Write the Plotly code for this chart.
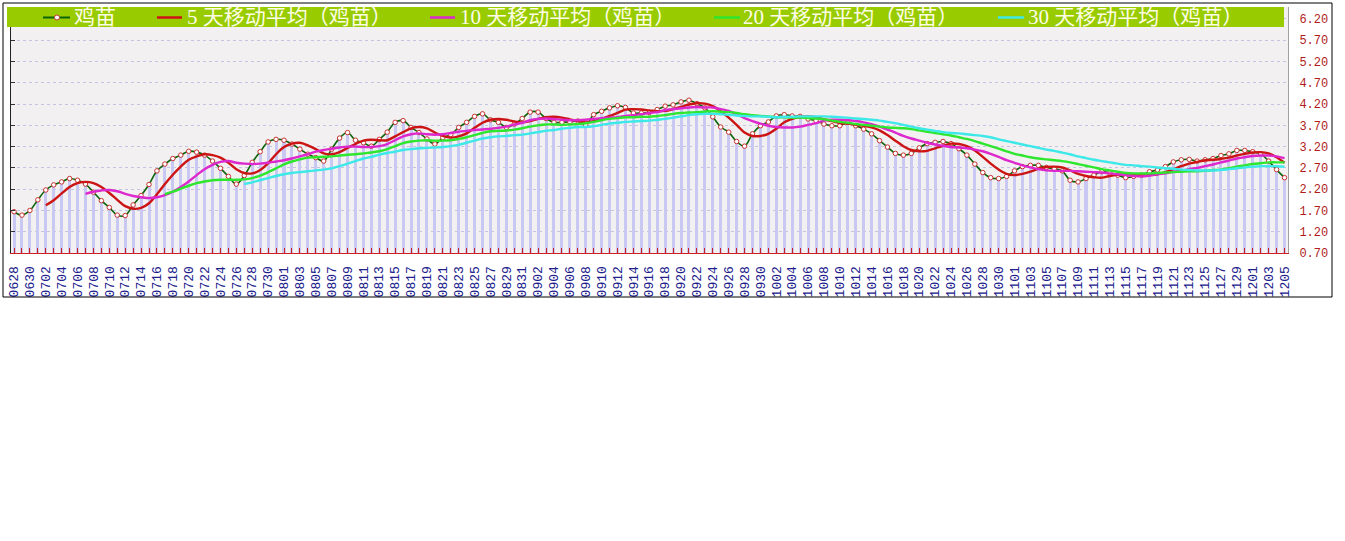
import plotly.graph_objects as go

# ---------------- data ----------------
dates = [
    "0628", "0629", "0630",
    "0701", "0702", "0703", "0704", "0705", "0706", "0707", "0708", "0709", "0710",
    "0711", "0712", "0713", "0714", "0715", "0716", "0717", "0718", "0719", "0720",
    "0721", "0722", "0723", "0724", "0725", "0726", "0727", "0728", "0729", "0730", "0731",
    "0801", "0802", "0803", "0804", "0805", "0806", "0807", "0808", "0809", "0810",
    "0811", "0812", "0813", "0814", "0815", "0816", "0817", "0818", "0819", "0820",
    "0821", "0822", "0823", "0824", "0825", "0826", "0827", "0828", "0829", "0830", "0831",
    "0901", "0902", "0903", "0904", "0905", "0906", "0907", "0908", "0909", "0910",
    "0911", "0912", "0913", "0914", "0915", "0916", "0917", "0918", "0919", "0920",
    "0921", "0922", "0923", "0924", "0925", "0926", "0927", "0928", "0929", "0930",
    "1001", "1002", "1003", "1004", "1005", "1006", "1007", "1008", "1009", "1010",
    "1011", "1012", "1013", "1014", "1015", "1016", "1017", "1018", "1019", "1020",
    "1021", "1022", "1023", "1024", "1025", "1026", "1027", "1028", "1029", "1030", "1031",
    "1101", "1102", "1103", "1104", "1105", "1106", "1107", "1108", "1109", "1110",
    "1111", "1112", "1113", "1114", "1115", "1116", "1117", "1118", "1119", "1120",
    "1121", "1122", "1123", "1124", "1125", "1126", "1127", "1128", "1129", "1130",
    "1201", "1202", "1203", "1204", "1205",
]

raw = [
    1.67, 1.59, 1.70, 1.95, 2.18, 2.30, 2.37, 2.45, 2.41, 2.32,
    2.13, 1.93, 1.77, 1.59, 1.58, 1.83, 2.05, 2.31, 2.63, 2.79,
    2.92, 3.00, 3.09, 3.07, 3.00, 2.86, 2.69, 2.50, 2.32, 2.52,
    2.83, 3.08, 3.31, 3.37, 3.35, 3.26, 3.14, 3.02, 2.94, 2.86,
    3.14, 3.40, 3.53, 3.35, 3.29, 3.21, 3.37, 3.54, 3.77, 3.81,
    3.65, 3.53, 3.38, 3.26, 3.41, 3.48, 3.65, 3.77, 3.91, 3.97,
    3.83, 3.77, 3.65, 3.73, 3.86, 4.01, 4.01, 3.86, 3.77, 3.77,
    3.78, 3.80, 3.71, 3.95, 4.03, 4.11, 4.16, 4.12, 3.99, 3.99,
    4.00, 4.07, 4.15, 4.18, 4.25, 4.29, 4.21, 4.11, 3.90, 3.66,
    3.54, 3.32, 3.21, 3.50, 3.69, 3.78, 3.92, 3.95, 3.92, 3.91,
    3.85, 3.81, 3.73, 3.69, 3.69, 3.77, 3.69, 3.61, 3.50, 3.34,
    3.19, 3.04, 3.00, 3.04, 3.17, 3.27, 3.30, 3.32, 3.27, 3.15,
    3.00, 2.79, 2.59, 2.47, 2.45, 2.50, 2.63, 2.73, 2.76, 2.76,
    2.71, 2.68, 2.63, 2.41, 2.37, 2.45, 2.53, 2.61, 2.58, 2.53,
    2.47, 2.50, 2.53, 2.61, 2.65, 2.73, 2.84, 2.89, 2.90, 2.86,
    2.89, 2.92, 2.99, 3.03, 3.11, 3.11, 3.08, 3.03, 2.86, 2.66,
    2.47,
]

ma5 = [
    1.82, 1.94, 2.10, 2.25, 2.34, 2.37,
    2.34, 2.25, 2.11, 1.95, 1.80, 1.74, 1.76, 1.87, 2.08, 2.32,
    2.54, 2.73, 2.89, 2.97, 3.02, 3.00, 2.94, 2.82, 2.67, 2.58,
    2.57, 2.65, 2.81, 3.02, 3.19, 3.27, 3.29, 3.23, 3.14, 3.04,
    3.02, 3.07, 3.17, 3.26, 3.34, 3.36, 3.35, 3.35, 3.44, 3.54,
    3.63, 3.66, 3.63, 3.53, 3.45, 3.41, 3.44, 3.51, 3.64, 3.76,
    3.83, 3.85, 3.83, 3.79, 3.77, 3.80, 3.85, 3.89, 3.90, 3.88,
    3.84, 3.80, 3.77, 3.80, 3.85, 3.92, 3.99, 4.07, 4.08, 4.07,
    4.05, 4.03, 4.04, 4.08, 4.13, 4.19, 4.22, 4.21, 4.15, 4.03,
    3.88, 3.71, 3.53, 3.45, 3.45, 3.50, 3.62, 3.77, 3.85, 3.90,
    3.91, 3.89, 3.84, 3.80, 3.75, 3.74, 3.71, 3.69, 3.65, 3.58,
    3.47, 3.34, 3.21, 3.12, 3.09, 3.10, 3.16, 3.22, 3.27, 3.26,
    3.21, 3.11, 2.96, 2.80, 2.66, 2.56, 2.53, 2.56, 2.61, 2.68,
    2.72, 2.73, 2.71, 2.64, 2.56, 2.51, 2.48, 2.47, 2.51, 2.54,
    2.54, 2.54, 2.52, 2.53, 2.55, 2.60, 2.67, 2.74, 2.80, 2.84,
    2.88, 2.89, 2.91, 2.94, 2.99, 3.03, 3.06, 3.07, 3.04, 2.95,
    2.82,
]

ma10 = [
    2.09,
    2.14, 2.17, 2.18, 2.15, 2.09, 2.04, 2.01, 1.99, 2.01, 2.06,
    2.14, 2.25, 2.38, 2.53, 2.67, 2.77, 2.84, 2.86, 2.82, 2.80,
    2.79, 2.80, 2.82, 2.85, 2.88, 2.92, 2.97, 3.02, 3.08, 3.12,
    3.15, 3.18, 3.20, 3.20, 3.19, 3.19, 3.21, 3.26, 3.35, 3.44,
    3.49, 3.51, 3.49, 3.48, 3.49, 3.52, 3.55, 3.57, 3.59, 3.60,
    3.62, 3.64, 3.67, 3.72, 3.76, 3.82, 3.85, 3.86, 3.85, 3.83,
    3.82, 3.82, 3.83, 3.85, 3.87, 3.88, 3.89, 3.92, 3.94, 3.96,
    3.99, 4.01, 4.06, 4.08, 4.10, 4.12, 4.13, 4.12, 4.12, 4.08,
    4.04, 3.96, 3.87, 3.80, 3.74, 3.69, 3.66, 3.65, 3.65, 3.67,
    3.71, 3.75, 3.81, 3.83, 3.83, 3.82, 3.80, 3.77, 3.73, 3.67,
    3.60, 3.53, 3.45, 3.39, 3.34, 3.29, 3.25, 3.22, 3.19, 3.18,
    3.16, 3.13, 3.09, 3.03, 2.96, 2.88, 2.82, 2.76, 2.71, 2.67,
    2.64, 2.63, 2.63, 2.63, 2.62, 2.61, 2.60, 2.59, 2.57, 2.55,
    2.53, 2.51, 2.50, 2.52, 2.55, 2.57, 2.61, 2.63, 2.67, 2.70,
    2.74, 2.78, 2.83, 2.87, 2.92, 2.95, 2.98, 2.99, 2.99, 2.97,
    2.93,
]

ma20 = [
    2.08,
    2.14, 2.21, 2.28, 2.34, 2.38, 2.41, 2.42, 2.42, 2.42, 2.43,
    2.46, 2.52, 2.60, 2.69, 2.78, 2.85, 2.90, 2.94, 2.95, 2.96,
    2.97, 2.99, 3.01, 3.02, 3.04, 3.06, 3.09, 3.14, 3.21, 3.28,
    3.32, 3.34, 3.35, 3.34, 3.34, 3.35, 3.38, 3.42, 3.47, 3.52,
    3.56, 3.57, 3.58, 3.60, 3.63, 3.67, 3.70, 3.72, 3.72, 3.71,
    3.72, 3.73, 3.75, 3.78, 3.82, 3.85, 3.87, 3.89, 3.89, 3.90,
    3.90, 3.92, 3.94, 3.97, 3.99, 4.00, 4.01, 4.02, 4.03, 4.02,
    4.01, 3.99, 3.96, 3.94, 3.92, 3.91, 3.89, 3.89, 3.88, 3.88,
    3.87, 3.86, 3.84, 3.81, 3.78, 3.76, 3.73, 3.71, 3.69, 3.67,
    3.65, 3.64, 3.63, 3.61, 3.58, 3.55, 3.52, 3.49, 3.46, 3.42,
    3.38, 3.33, 3.27, 3.21, 3.15, 3.09, 3.03, 2.99, 2.95, 2.92,
    2.90, 2.88, 2.86, 2.83, 2.79, 2.75, 2.71, 2.67, 2.64, 2.61,
    2.58, 2.57, 2.57, 2.57, 2.58, 2.59, 2.60, 2.61, 2.62, 2.62,
    2.63, 2.65, 2.66, 2.69, 2.73, 2.76, 2.79, 2.81, 2.83, 2.83,
    2.83,
]

ma30 = [
    2.32,
    2.36, 2.41, 2.46, 2.51, 2.55, 2.58, 2.60, 2.62, 2.64, 2.66,
    2.69, 2.74, 2.80, 2.86, 2.92, 2.96, 3.01, 3.05, 3.08, 3.12,
    3.14, 3.16, 3.17, 3.18, 3.19, 3.21, 3.24, 3.29, 3.34, 3.39,
    3.42, 3.44, 3.45, 3.47, 3.48, 3.51, 3.54, 3.57, 3.59, 3.62,
    3.64, 3.66, 3.66, 3.68, 3.71, 3.74, 3.76, 3.78, 3.79, 3.80,
    3.81, 3.83, 3.85, 3.88, 3.91, 3.94, 3.96, 3.97, 3.97, 3.96,
    3.95, 3.93, 3.92, 3.91, 3.91, 3.90, 3.89, 3.90, 3.90, 3.91,
    3.91, 3.91, 3.91, 3.90, 3.89, 3.88, 3.86, 3.85, 3.83, 3.81,
    3.78, 3.75, 3.71, 3.67, 3.63, 3.60, 3.57, 3.54, 3.52, 3.51,
    3.49, 3.47, 3.45, 3.42, 3.37, 3.33, 3.29, 3.25, 3.21, 3.17,
    3.13, 3.10, 3.06, 3.02, 2.97, 2.93, 2.89, 2.86, 2.83, 2.80,
    2.77, 2.76, 2.74, 2.73, 2.71, 2.69, 2.68, 2.66, 2.65, 2.64,
    2.64, 2.64, 2.65, 2.67, 2.69, 2.71, 2.73, 2.74, 2.74, 2.74,
    2.73,
]

y_ticks = [0.70, 1.20, 1.70, 2.20, 2.70, 3.20, 3.70, 4.20, 4.70, 5.20, 5.70, 6.20]
y_tick_labels = ["0.70", "1.20", "1.70", "2.20", "2.70", "3.20",
                 "3.70", "4.20", "4.70", "5.20", "5.70", "6.20"]
legend_names = ["鸡苗", "5 天移动平均（鸡苗）", "10 天移动平均（鸡苗）",
                "20 天移动平均（鸡苗）", "30 天移动平均（鸡苗）"]

# ---------------- style ----------------
C_RAW = "#0a640a"
C_MA = ["#cc1414", "#dc28cc", "#2ee62e", "#3ce8e8"]
W, H = 1345, 541
L, R, T, B = 11, 57, 7, 288
PW = W - L - R
PH = H - T - B


def px(x):
    return (x - L) / PW


def py(y):
    return (H - B - y) / PH


# every day gets a tick, every second day gets a label
tick_text = [d if i % 2 == 0 else "" for i, d in enumerate(dates)]

fig = go.Figure()
fig.add_trace(go.Bar(x=dates, y=raw, width=0.38,
                     marker=dict(color="#c8c8f2", line=dict(width=0)),
                     hoverinfo="skip", showlegend=False))
fig.add_trace(go.Scatter(x=dates, y=raw, mode="lines+markers", name=legend_names[0],
                         line=dict(color=C_RAW, width=1.6, shape="spline"),
                         marker=dict(size=4.5, color="white",
                                     line=dict(color="#c83232", width=1))))
for name, vals, col in zip(legend_names[1:], [ma5, ma10, ma20, ma30], C_MA):
    fig.add_trace(go.Scatter(x=dates[len(dates) - len(vals):], y=vals, mode="lines",
                             name=name, line=dict(color=col, width=2.4, shape="spline")))
# carrier for the right-hand value axis
fig.add_trace(go.Scatter(x=dates, y=raw, yaxis="y2", mode="lines", opacity=0,
                         line=dict(width=0), hoverinfo="skip", showlegend=False))

shapes = []
# outer frame
shapes.append(dict(type="rect", xref="paper", yref="paper",
                   x0=px(3), x1=px(1332), y0=py(297), y1=py(3),
                   line=dict(color="#000000", width=1), layer="above"))
# legend bar
shapes.append(dict(type="rect", xref="paper", yref="paper",
                   x0=px(7), x1=px(1284), y0=py(27), y1=py(7),
                   fillcolor="#99cc00", line=dict(width=0), layer="above"))
ly = py(17.5)
samples = [(43, 70, C_RAW, 2), (157, 182, C_MA[0], 2.5), (430, 455, C_MA[1], 2.5),
           (714, 740, C_MA[2], 2.5), (998, 1024, C_MA[3], 2.5)]
for x0, x1, col, w in samples:
    shapes.append(dict(type="line", xref="paper", yref="paper",
                       x0=px(x0), x1=px(x1), y0=ly, y1=ly,
                       line=dict(color=col, width=w), layer="above"))
shapes.append(dict(type="circle", xref="paper", yref="paper",
                   x0=px(54.5), x1=px(59.5), y0=py(20), y1=py(15),
                   fillcolor="white", line=dict(color="#c83232", width=1), layer="above"))

annotations = []
for name, xs in zip(legend_names, [72, 185, 458, 741, 1026]):
    annotations.append(dict(text=name, xref="paper", yref="paper", x=px(xs), y=py(17),
                            xanchor="left", yanchor="middle", showarrow=False,
                            font=dict(family="Liberation Serif, Noto Sans CJK SC",
                                      size=21, color="#fdfde6")))

fig.update_layout(
    width=W, height=H,
    margin=dict(l=L, r=R, t=T, b=B, autoexpand=False),
    paper_bgcolor="white", plot_bgcolor="#f2f0f0",
    showlegend=False, bargap=0, hovermode=False,
    shapes=shapes, annotations=annotations,
    xaxis=dict(type="category", range=[-0.38, 160.44], tickmode="array",
               tickvals=dates, ticktext=tick_text, tickangle=-90,
               ticks="inside", ticklen=5, tickwidth=1, tickcolor="#cc2222",
               showline=True, linecolor="#cc2222", linewidth=1,
               showgrid=False, zeroline=False, ticklabelstandoff=7,
               tickfont=dict(family="Liberation Mono", size=13, color="#20208c")),
    yaxis=dict(range=[0.70, 6.48], tickmode="array", tickvals=y_ticks,
               showticklabels=False, ticks="inside", ticklen=4, tickcolor="#333333",
               showline=True, linecolor="#222222", linewidth=1,
               showgrid=True, gridcolor="#c4c4e2", gridwidth=1, griddash="3px,3px",
               zeroline=False),
    yaxis2=dict(overlaying="y", side="right", range=[0.70, 6.48], tickmode="array",
                tickvals=y_ticks, ticktext=y_tick_labels, ticks="",
                showline=True, linecolor="#a0a0a0", linewidth=1,
                showgrid=False, zeroline=False, ticklabelstandoff=8,
                tickfont=dict(family="Liberation Mono", size=12, color="#b01c1c")),
)

fig.write_html("out.html", config={"displayModeBar": False},
               post_script="document.body.style.margin='0';document.body.style.overflow='hidden';")
